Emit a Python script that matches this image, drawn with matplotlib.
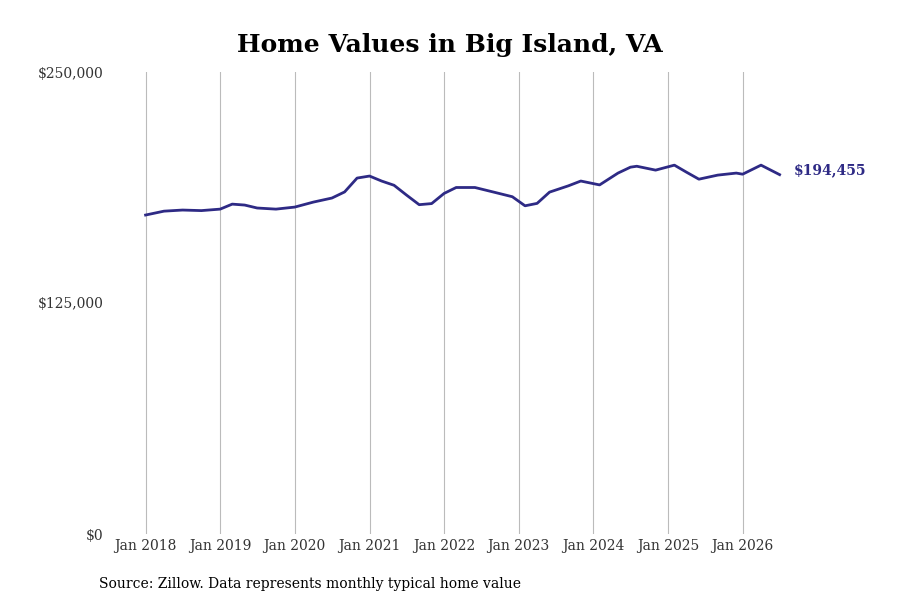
import matplotlib
matplotlib.use("Agg")
import matplotlib.pyplot as plt
import pandas as pd

dates = ["2018-01", "2018-04", "2018-07", "2018-10", "2019-01", "2019-03", "2019-05",
         "2019-07", "2019-10", "2020-01", "2020-04", "2020-07", "2020-09", "2020-11",
         "2021-01", "2021-03", "2021-05", "2021-07", "2021-09", "2021-11", "2022-01",
         "2022-03", "2022-06", "2022-09", "2022-12", "2023-02", "2023-04", "2023-06",
         "2023-09", "2023-11", "2024-02", "2024-05", "2024-07", "2024-08", "2024-11",
         "2025-02", "2025-04", "2025-06", "2025-09", "2025-12", "2026-01", "2026-04",
         "2026-07"]
values = [172600, 174700, 175300, 175000, 175800, 178500, 178000,
          176400, 175800, 176900, 179600, 181800, 185100, 192600,
          193700, 191000, 188700, 183400, 178200, 178800, 184300,
          187500, 187500, 185000, 182500, 177600, 178900, 185000,
          188400, 191000, 188900, 195300, 198500, 199000, 196900,
          199600, 195800, 192000, 194200, 195300, 194700, 199600,
          194455]
year_ticks = [f"{y}-01" for y in range(2018, 2027)]
year_labels = [f"Jan {y}" for y in range(2018, 2027)]

plt.rcParams["font.family"] = ["DejaVu Serif"]
color = "#2e2a85"
x = pd.to_datetime(dates)

fig = plt.figure(figsize=(9, 6), dpi=100)
ax = fig.add_axes([0.12, 0.11, 0.788, 0.77])
ax.plot(x, values, color=color, lw=2)
ax.set_ylim(0, 250000)
ax.set_xlim(pd.Timestamp("2017-07-01"), pd.Timestamp("2027-01-01"))
ax.set_yticks([0, 125000, 250000])
ax.set_yticklabels(["$0", "$125,000", "$250,000"], fontsize=10, color="#333333")
ax.set_xticks(pd.to_datetime(year_ticks))
ax.set_xticklabels(year_labels, fontsize=10, color="#333333")
ax.grid(axis="x", color="#bbbbbb", lw=0.8)
ax.tick_params(length=0)
for s in ax.spines.values():
    s.set_visible(False)
ax.annotate(f"${values[-1]:,}", (x[-1], values[-1]), xytext=(10, 3),
            textcoords="offset points", color=color, fontsize=10,
            fontweight="bold", va="center")
fig.suptitle("Home Values in Big Island, VA", fontsize=18, fontweight="bold", y=0.945)
fig.text(0.11, 0.02, "Source: Zillow. Data represents monthly typical home value", fontsize=10)
fig.savefig("out.png")
